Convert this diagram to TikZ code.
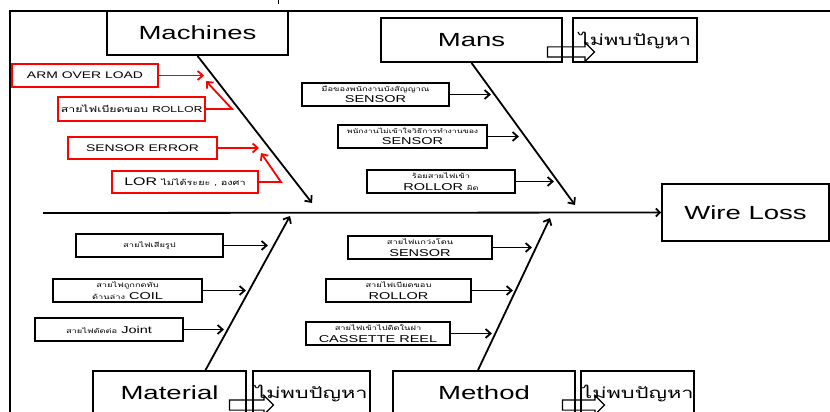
\documentclass[tikz,border=0pt]{standalone}
\usepackage{fontspec}
\setmainfont{Liberation Sans}[FakeStretch=1.45]
\newfontfamily\thaifont[Script=Thai,FakeStretch=1.45]{Loma}
\usetikzlibrary{arrows.meta,shapes.arrows}
\tikzset{catbox/.style = {draw,line width=1.8pt,inner sep=0pt,font=\fontsize{19}{22}\selectfont},
         nobox/.style = {draw,line width=1.8pt,inner sep=0pt,font=\thaifont\fontsize{15}{16}\selectfont},
         causebox/.style = {draw,line width=1.8pt,minimum width=147,minimum height=23,inner sep=0pt,align=center,font=\fontsize{10}{11.5}\selectfont},
         redbox/.style = {causebox,draw=red,line width=2pt,font=\fontsize{9.6}{10}\selectfont},
         fatarrow/.style = {single arrow,draw,fill=white,line width=1.2pt,inner sep=4.5pt,single arrow head extend=4.5pt},
         bone/.style = {line width=1.8pt,-{Straight Barb[length=5pt,width=9pt]}},
         redbone/.style = {bone,red}}
\newcommand{\thaismall}[1]{{\thaifont\fontsize{6.4}{7}\selectfont #1}}

\begin{document}
\begin{tikzpicture}[x=1pt,y=-1pt]
    \useasboundingbox (0,0) rectangle (830,412);
    \clip (0,0) rectangle (830,412);
    \draw[line width=2.2pt] (10,420) -- (10,11) -- (840,11);
    \draw[line width=1pt] (278,0) -- (278,4);

    \node[fatarrow,minimum height=47] (mansgo) at (568.5,52) {};
    \node[fatarrow,minimum height=44] (matgo)  at (249,405)  {};
    \node[fatarrow,minimum height=42] (methgo) at (581,405)  {};

    \node[catbox,minimum width=181,minimum height=44] (mach) at (197.5,33)  {Machines};
    \node[catbox,minimum width=181,minimum height=44] (mans) at (471.5,40)  {Mans};
    \node[nobox, minimum width=124,minimum height=44] (mansno) at (635,40) {ไม่พบปัญหา};
    \node[catbox,minimum width=167,minimum height=57] (loss) at (745.5,212.5) {Wire Loss};
    \node[catbox,minimum width=153,minimum height=44] (mat)  at (169.5,393) {Material};
    \node[nobox, minimum width=117,minimum height=44] (matno) at (311.5,393) {ไม่พบปัญหา};
    \node[catbox,minimum width=182,minimum height=44] (meth) at (484,393)   {Method};
    \node[nobox, minimum width=109,minimum height=44] (methno) at (637.5,393) {ไม่พบปัญหา};

    % machines
    \node[redbox,minimum width=146] (arm) at (85,75.5)   {ARM OVER LOAD};
    \node[redbox,minimum height=24,font=\thaifont\fontsize{8.5}{9}\selectfont] (roll) at (131.5,109) {สายไฟเบียดขอบ ROLLOR};
    \node[redbox,minimum width=149,minimum height=22] (serr) at (142.5,148) {SENSOR ERROR};
    \node[redbox,minimum width=146,minimum height=22,font=\fontsize{11}{11}\selectfont] (lor) at (185,182)
        {LOR {\thaifont\fontsize{7.5}{8}\selectfont ไม่ได้ระยะ , องศา}};

    % mans
    \node[causebox] (hand)  at (375.5,94.5) {\thaismall{มือของพนักงานบังสัญญาณ}\\SENSOR};
    \node[causebox,minimum width=149] (staff) at (412.5,136.5) {{\thaifont\fontsize{6}{7}\selectfont พนักงานไม่เข้าใจวิธีการทำงานของ}\\SENSOR};
    \node[causebox,minimum width=148] (feed)  at (441,181.5) {\thaismall{ร้อยสายไฟเข้า}\\ROLLOR \thaismall{ผิด}};

    % material
    \node[causebox] (bent)  at (149.5,245.5) {\thaismall{สายไฟเสียรูป}};
    \node[causebox,minimum width=149] (press) at (127.5,290.5) {\thaismall{สายไฟถูกกดทับ}\\\thaismall{ด้านล่าง} COIL};
    \node[causebox,minimum width=148] (joint) at (109,329.5) {\thaismall{สายไฟตัดต่อ} Joint};

    % method
    \node[causebox,minimum width=144] (swing) at (420,247.5) {\thaismall{สายไฟแกว่งโดน}\\SENSOR};
    \node[causebox,minimum width=145] (edge)  at (398.5,290.5) {\thaismall{สายไฟเบียดขอบ}\\ROLLOR};
    \node[causebox,minimum width=144] (reel)  at (378,333.5) {\thaismall{สายไฟเข้าไปติดในฝา}\\CASSETTE REEL};

    \coordinate (tail)    at (43,213);
    \coordinate (machend) at (312,203);
    \coordinate (mansend) at (575,205);
    \coordinate (matend)  at (290,216);
    \coordinate (methend) at (550,218);

    \draw[line width=1.8pt,-{Straight Barb[length=4pt,width=8pt]}] (tail) -- (loss.west);
    \draw[bone] (mach.south) -- (machend);
    \draw[bone] (mans.south) -- (mansend);
    \draw[bone] ([xshift=36pt]mat.north) -- (matend);
    \draw[bone] ([xshift=-6pt]meth.north) -- (methend);

    \draw[redbone] (arm.east) -- ++(45,0);
    \draw[redbone] (roll.east) -- ++(26,0) -- ++(-26,-28);
    \draw[redbone] (serr.east) -- ++(41,0);
    \draw[redbone] (lor.east) -- ++(22,0) -- ++(-20,-29);

    \draw[bone] (hand.east)  -- ++(41,0);
    \draw[bone] (staff.east) -- ++(31,0);
    \draw[bone] (feed.east)  -- ++(38,0);
    \draw[bone] (bent.east)  -- ++(44,0);
    \draw[bone] (press.east) -- ++(43,0);
    \draw[bone] (joint.east) -- ++(40,0);
    \draw[bone] (swing.east) -- ++(39,0);
    \draw[bone] (edge.east)  -- ++(41,0);
    \draw[bone] (reel.east)  -- ++(41,0);
\end{tikzpicture}
\end{document}
